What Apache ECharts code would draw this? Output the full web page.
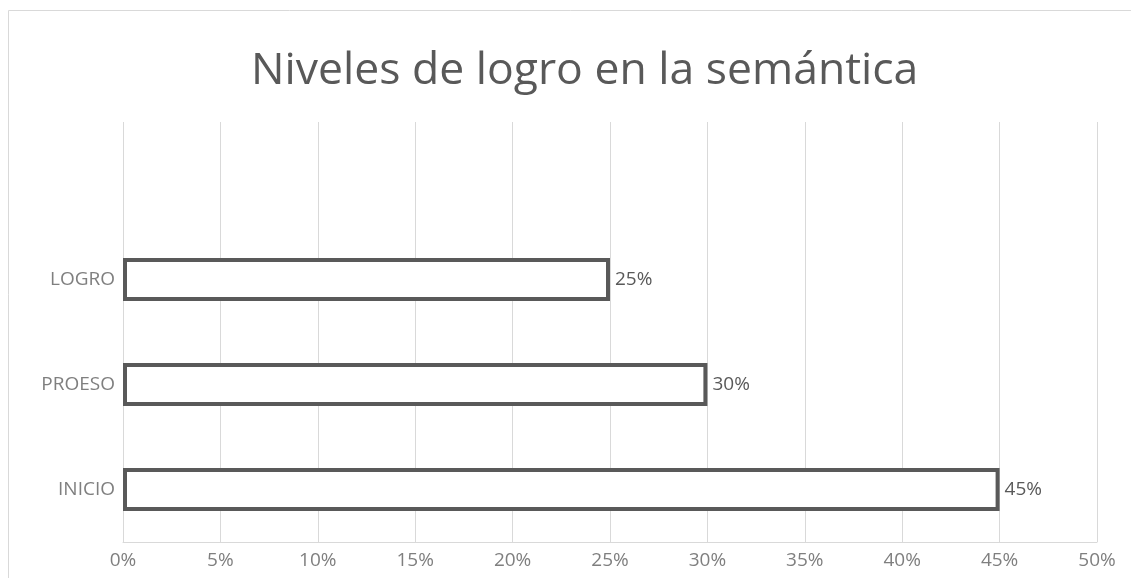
<!DOCTYPE html>
<html>
<head>
<meta charset="utf-8">
<script src="https://cdn.jsdelivr.net/npm/echarts@6/dist/echarts.min.js"></script>
<style>
  html, body { margin: 0; padding: 0; background: #fff; }
  #chart { width: 1131px; height: 578px; }
</style>
</head>
<body>
<div id="chart"></div>
<script>
// categories from bottom to top; the top row is empty in the original
const categories = ['INICIO', 'PROESO', 'LOGRO', ''];
const values = [45, 30, 25, null];
const xTicks = [0, 50, 5]; // min, max, interval (percent)

const myChart = echarts.init(document.getElementById('chart'));
const option = {
  animation: false,
  title: {
    text: 'Niveles de logro en la semántica',
    left: 246,
    top: 44,
    textStyle: {
      color: '#595959',
      fontSize: 44.5,
      fontWeight: 'normal',
      fontFamily: 'Open Sans'
    }
  },
  graphic: [{
    type: 'rect',
    shape: { x: 8.5, y: 10.5, width: 1140, height: 600 },
    style: { fill: 'none', stroke: '#d9d9d9', lineWidth: 1 },
    silent: true
  }],
  grid: {
    left: 123,
    right: 34,
    top: 122,
    bottom: 36
  },
  xAxis: {
    type: 'value',
    min: xTicks[0],
    max: xTicks[1],
    interval: xTicks[2],
    axisLine: { show: true, lineStyle: { color: '#d9d9d9', width: 1 } },
    axisTick: { show: false },
    axisLabel: {
      formatter: '{value}%',
      color: '#7f7f7f',
      fontSize: 19,
      fontFamily: 'Open Sans',
      margin: 9
    },
    splitLine: { show: true, lineStyle: { color: '#d9d9d9', width: 1 } }
  },
  yAxis: {
    type: 'category',
    data: categories,
    axisLine: { show: false },
    axisTick: { show: false },
    axisLabel: {
      color: '#7f7f7f',
      fontSize: 19,
      fontFamily: 'Open Sans',
      margin: 8
    },
    splitLine: { show: false }
  },
  series: [{
    type: 'bar',
    data: values,
    barWidth: '41%',
    itemStyle: {
      color: '#ffffff',
      borderColor: '#595959',
      borderWidth: 4
    },
    label: {
      show: true,
      position: 'right',
      distance: 5,
      formatter: '{c}%',
      color: '#595959',
      fontSize: 19,
      fontFamily: 'Open Sans'
    }
  }]
};
myChart.setOption(option);
window.addEventListener('resize', () => {
  myChart.resize();
});
</script>
</body>
</html>
